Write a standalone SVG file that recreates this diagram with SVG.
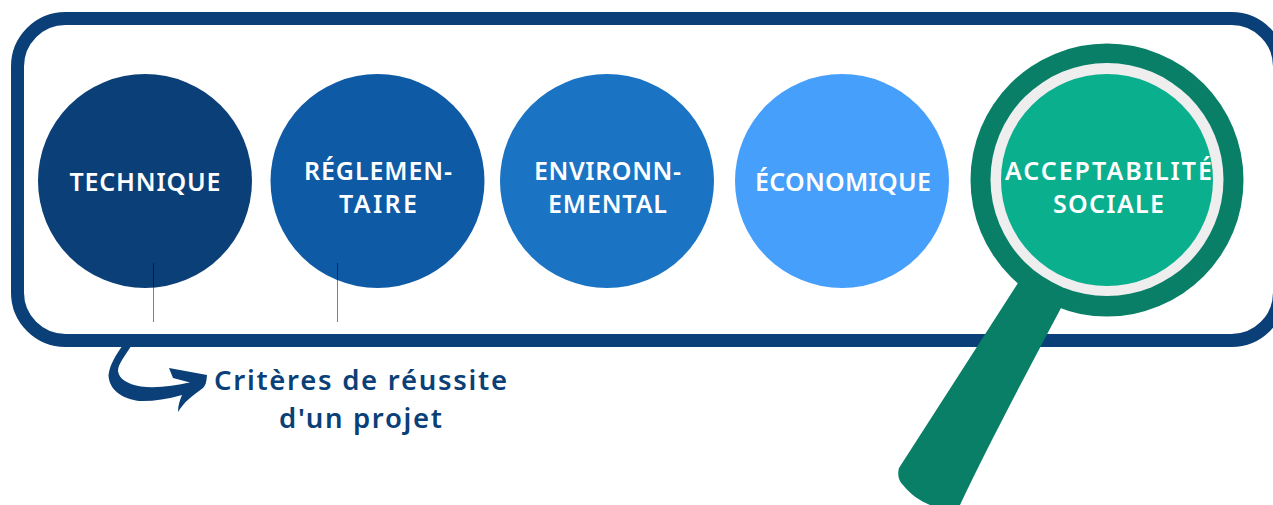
<svg xmlns="http://www.w3.org/2000/svg" width="1273" height="505" viewBox="0 0 1273 505">
<style>
.l{font-family:"Noto Sans","Liberation Sans",sans-serif;font-weight:600;font-size:25px;fill:#fff;text-anchor:middle}
.c{font-family:"Noto Sans","Liberation Sans",sans-serif;font-weight:600;font-size:27.500px;fill:#0b3f77;text-anchor:middle}
</style>
<rect width="1273" height="505" fill="#fff"/>
<rect id="frame" x="17.500" y="18.500" width="1262" height="322" rx="48" ry="48" fill="#fff" stroke="#0b3f77" stroke-width="13"/>
<g id="technique"><circle cx="145" cy="181" r="107" fill="#0b3f77"/><text class="l" x="145" y="190.500" textLength="151">TECHNIQUE</text></g>
<g id="reglementaire"><circle cx="377.500" cy="181" r="107" fill="#0e5aa5"/><text class="l" x="378" y="180" textLength="148">RÉGLEMEN-</text><text class="l" x="378" y="212.500" textLength="78">TAIRE</text></g>
<g id="environnemental"><circle cx="607" cy="181" r="107" fill="#1a73c3"/><text class="l" x="607.500" y="180" textLength="147">ENVIRONN-</text><text class="l" x="607.500" y="212.500" textLength="119">EMENTAL</text></g>
<g id="economique"><circle cx="842" cy="181" r="107" fill="#469ffa"/><text class="l" x="843" y="190.500" textLength="176">ÉCONOMIQUE</text></g>
<g id="connectors">
<path d="M153.500 263V322M337.500 263V322" fill="none" stroke="#000" stroke-opacity=".5" stroke-width="1"/>
<path d="M121.500 347L130.500 347C125 356 118 364 118 371C119 379 127 384 141 386.500C157 388.500 175 385.500 190 382.500L173 378L169 368L207 375C206.500 381 206 385 203 388C192 396 184 402 178 412C178 405 180 400 182 395C166 399.500 152 401.500 139 401C122 398.500 109 390 108.500 375C110 364 116 355 121.500 347Z" fill="#0b3f77"/>
</g>
<g id="caption"><text class="c" x="360.500" y="389.500" textLength="293">Critères de réussite</text><text class="c" x="360.500" y="428" textLength="163">d'un projet</text></g>
<g id="acceptabilite">
<path d="M1018 283L899 468C897 475 899 481 903 485C910 494 920 501 930 505H960C985 452 1020 385 1061 308L1090 300L1030 270Z" fill="#087f66"/>
<circle cx="1107" cy="180" r="136.500" fill="#087f66"/>
<circle cx="1107" cy="179.500" r="116.500" fill="#eee"/>
<circle cx="1107" cy="180" r="106" fill="#0aaf8e"/>
<text class="l" x="1108.500" y="180" textLength="207">ACCEPTABILITÉ</text><text class="l" x="1108.500" y="212.500" textLength="111">SOCIALE</text>
</g>
</svg>
